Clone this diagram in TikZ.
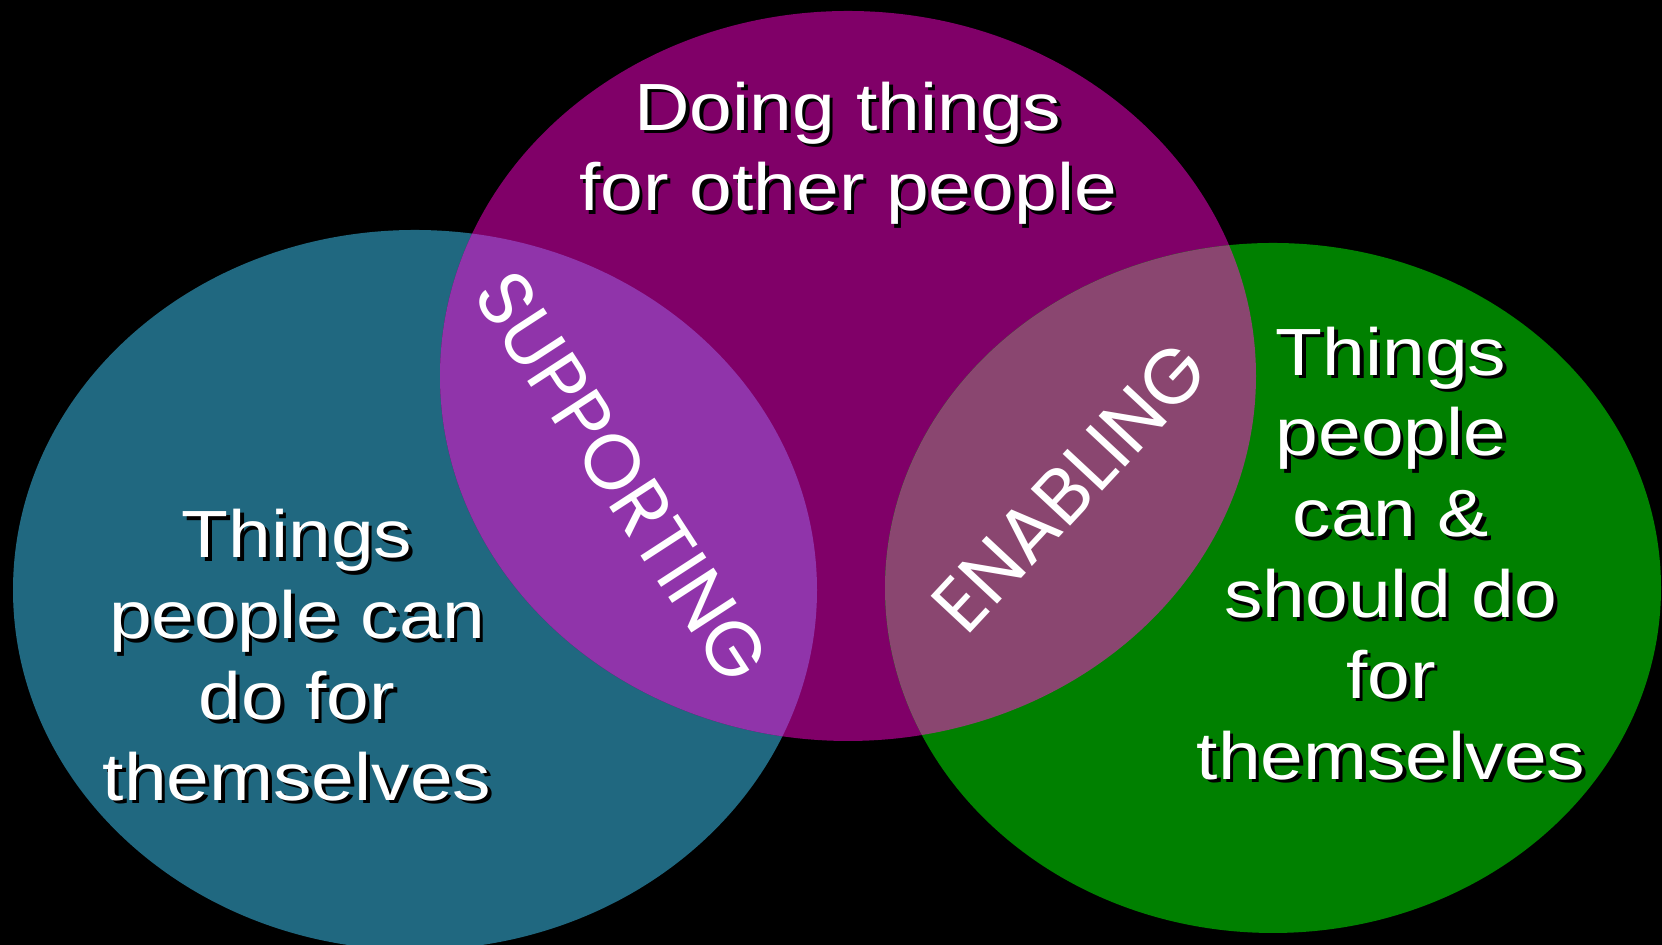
\documentclass[tikz,border=0pt]{standalone}
\usepackage{fontspec}
\setmainfont{Liberation Sans}[FakeStretch=1.15]
\newfontfamily\lensfont{Poppins}

\definecolor{selfblue}{RGB}{32,104,128}
\definecolor{doingpurple}{RGB}{128,0,104}
\definecolor{shouldgreen}{RGB}{0,128,0}
\definecolor{supportlens}{RGB}{144,52,170}
\definecolor{enablelens}{RGB}{138,70,112}

\newcommand{\shadowed}[1]{\leavevmode\rlap{\kern1pt\raisebox{-1pt}{\color{black}#1}}#1}

\tikzset{
  venntext/.style={text=white, align=center, font=\fontsize{19}{23}\selectfont},
  lenstext/.style={text=white, font=\lensfont\fontsize{22}{26}\selectfont}
}

\begin{document}
\begin{tikzpicture}
        \useasboundingbox (0,0) rectangle (16.62,9.45);
        \fill[black] (0,0) rectangle (16.62,9.45);                                        % background
        \fill[selfblue] (4.15,3.55) ellipse [x radius=4.02, y radius=3.60];               % self
        \fill[doingpurple] (8.48,5.69) ellipse [x radius=4.08, y radius=3.65];            % doing
        \fill[shouldgreen] (12.73,3.57) ellipse [x radius=3.88, y radius=3.45];           % should
        \begin{scope}
            \clip (4.15,3.55) ellipse [x radius=4.02, y radius=3.60];
            \fill[supportlens] (8.48,5.69) ellipse [x radius=4.08, y radius=3.65];       % supporting
        \end{scope}
        \begin{scope}
            \clip (12.73,3.57) ellipse [x radius=3.88, y radius=3.45];
            \fill[enablelens] (8.48,5.69) ellipse [x radius=4.08, y radius=3.65];        % enabling
        \end{scope}
        \node[venntext] (doing) at (8.48,7.90) {\shadowed{Doing things}\\\shadowed{for other people}};
        \node[venntext] (self) at (2.97,2.88) {\shadowed{Things}\\\shadowed{people can}\\\shadowed{do for}\\\shadowed{themselves}};
        \node[venntext] (should) at (13.91,3.90) {\shadowed{Things}\\\shadowed{people}\\\shadowed{can \&}\\\shadowed{should do}\\\shadowed{for}\\\shadowed{themselves}};
        \node[lenstext, rotate=-57] (supporting) at (6.22,4.68) {SUPPORTING};
        \node[lenstext, rotate=47] (enabling) at (10.70,4.58) {ENABLING};

    \end{tikzpicture}
\end{document}
